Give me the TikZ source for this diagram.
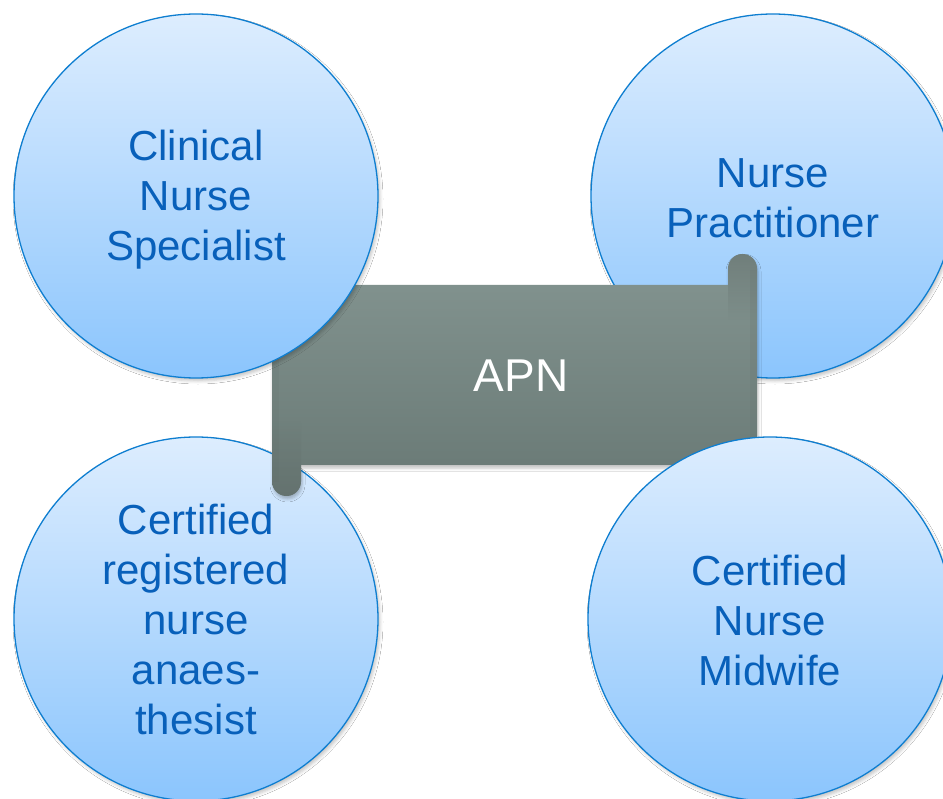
\documentclass[tikz,border=0pt]{standalone}
\usepackage{fontspec}
\setmainfont{Liberation Sans}
\usetikzlibrary{shadows.blur,fadings}

\definecolor{discTop}{RGB}{221,237,254}
\definecolor{discBottom}{RGB}{139,197,253}
\definecolor{discRim}{RGB}{14,126,208}
\definecolor{discText}{RGB}{8,96,186}
\definecolor{scrollTop}{RGB}{132,149,145}
\definecolor{scrollBottom}{RGB}{104,120,116}
\definecolor{scrollRod}{RGB}{96,108,105}

\tikzfading[name=rodfade, top color=transparent!0, bottom color=transparent!100]
\tikzfading[name=rodfadeup, top color=transparent!100, bottom color=transparent!0]

\tikzset{
  role/.style={circle, minimum size=364pt, inner sep=0pt,
    top color=discTop, bottom color=discBottom,
    draw=discRim, line width=1.3pt,
    blur shadow={shadow xshift=2pt, shadow yshift=-3pt,
      shadow blur radius=3pt, shadow opacity=22}},
  roletext/.style={text=discText, align=center,
    font=\fontsize{42}{50}\selectfont},
  scrollbody/.style={top color=scrollTop, bottom color=scrollBottom,
    blur shadow={shadow xshift=1pt, shadow yshift=-3pt,
      shadow blur radius=3pt, shadow opacity=25}},
  rodshade/.style={fill=scrollRod, opacity=0.55, path fading=rodfade},
  rodshadeup/.style={fill=scrollRod, opacity=0.45, path fading=rodfadeup},
  banner/.style={text=white, font=\fontsize{46}{50}\selectfont},
}

\begin{document}
\begin{tikzpicture}[x=1pt, y=-1pt]
  \useasboundingbox (0,0) rectangle (943,799);
  \clip (0,0) rectangle (943,799);
  \fill[white] (0,0) rectangle (943,799);

  % discs that lie behind the scroll
  \node[role] (np) at (773,196) {};
  \node[roletext] (nptext) at ([yshift=-2pt]np.center) {Nurse\\Practitioner};
  \node[role] (crna) at (196,619) {};
  \node[roletext] (crnatext) at (crna.center) {Certified\\registered\\nurse\\anaes-\\thesist};

  % horizontal scroll with rolled ends
  \path[scrollbody] (272,285) -- (728,285) -- (728,268.5)
    .. controls (728,260.5) and (734.5,254) .. (742.5,254)
    .. controls (750.5,254) and (757,260.5) .. (757,268.5)
    -- (757,465) -- (301,465) -- (301,481.5)
    .. controls (301,489.5) and (294.5,496) .. (286.5,496)
    .. controls (278.5,496) and (272,489.5) .. (272,481.5)
    -- cycle;

  % darker rolls at both ends
  \fill[rodshade] (728,320) -- (728,268.5)
    .. controls (728,260.5) and (734.5,254) .. (742.5,254)
    .. controls (750.5,254) and (757,260.5) .. (757,268.5)
    -- (757,320) -- cycle;
  \fill[rodshadeup] (301,420) -- (301,481.5)
    .. controls (301,489.5) and (294.5,496) .. (286.5,496)
    .. controls (278.5,496) and (272,489.5) .. (272,481.5)
    -- (272,420) -- cycle;
  \fill[scrollRod, opacity=0.15] (750,270) rectangle (757,465);
  \fill[scrollRod, opacity=0.15] (272,285) rectangle (279,482);

  \node[banner] (apn) at (521,376) {APN};

  % discs that lie in front of the scroll
  \node[role] (cns) at (196,196) {};
  \node[roletext] (cnstext) at ([yshift=-4pt]cns.center) {Clinical\\Nurse\\Specialist};
  \node[role] (cnm) at (770,619) {};
  \node[roletext] (cnmtext) at ([yshift=-1pt]cnm.center) {Certified\\Nurse\\Midwife};
\end{tikzpicture}
\end{document}
